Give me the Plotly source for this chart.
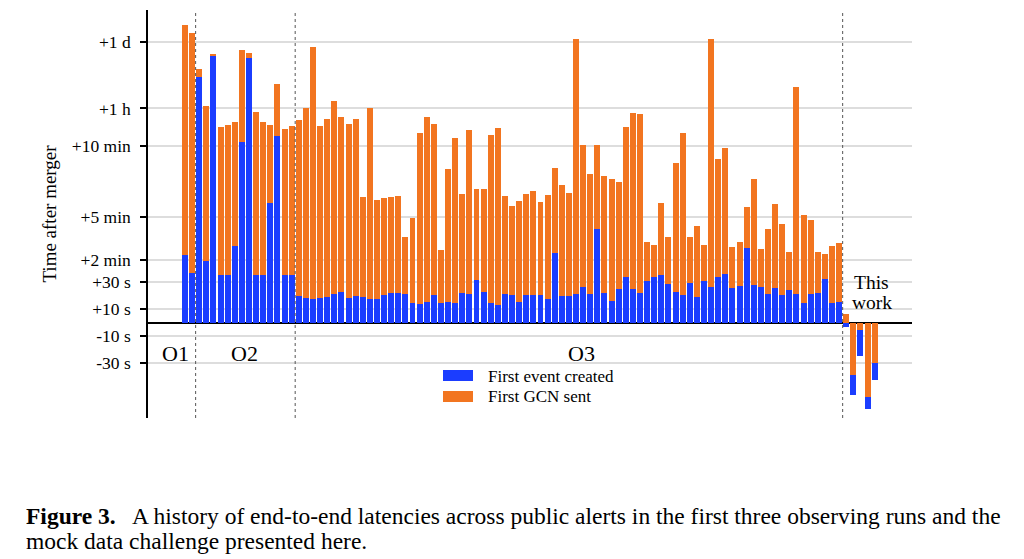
import numpy as np
import plotly.graph_objects as go

# ---------------- data (seconds after merger) ----------------
runs = ["O1", "O2", "O3", "This work"]

o1_event = [142, 66]
o1_gcn = [197000, 134000]

o2_event = [16300, 117, 44600, 58, 58, 180, 720, 40500, 58, 58, 360, 960, 58, 58]
o2_gcn = [23900, 4050, 49000, 1480, 1630, 1880, 59400, 51500, 3040, 1880, 1630, 11600, 1340, 1550]

o3_event = [19.5, 18, 17.3, 18, 18.7, 21, 22.4, 18, 19.5, 18.7,
            17.3, 17.3, 20.2, 21.7, 21.7, 21, 14.3, 13.6, 15, 20.2,
            14.3, 15, 14.3, 21.7, 21, 37, 22.4, 14.3, 12.9, 21,
            20.2, 15, 20.2, 20.2, 20.2, 17.3, 150, 19.5, 19.5, 21,
            26, 21, 251, 21.7, 15.8, 24.6, 50, 24.6, 21.7, 33,
            50, 58, 28.3, 22.4, 20.2, 29, 18.7, 33, 26, 50,
            62, 25.4, 26.8, 171, 27.6, 26, 21, 25.4, 20.2, 23.9,
            21, 14.3, 21, 21.7, 41, 14.3, 15]
o3_gcn = [2070, 3680, 68600, 1550, 2170, 5150, 2390, 1710, 2170, 385,
          3680, 373, 381, 385, 389, 217, 297, 1110, 2390, 1710,
          163, 502, 872, 398, 1280, 419, 419, 1010, 1410, 389,
          347, 368, 398, 410, 364, 394, 507, 435, 402, 100800,
          623, 482, 623, 473, 461, 448, 1480, 2890, 2760, 196,
          184, 360, 217, 528, 1110, 217, 264, 184, 100800, 544,
          590, 175, 196, 343, 461, 167, 251, 356, 272, 155,
          10070, 310, 289, 155, 146, 180, 192]

mdc_event = [-3.1, -162, -24.4, -220, -99]
mdc_gcn = [6, -79, -5.5, -171, -30]

tick_seconds = [86400, 3600, 600, 300, 120, 30, 10, -10, -30]
tick_labels = ["+1 d", "+1 h", "+10 min", "+5 min", "+2 min", "+30 s", "+10 s", "-10 s", "-30 s"]

caption_line1 = ("<b>Figure 3.</b>   A history of end-to-end latencies across public alerts "
                 "in the first three observing runs and the")
caption_line2 = "mock data challenge presented here."


# ---------------- axis transform (piecewise: linear / linear / log) ----------------
def scale(t):
    t = np.asarray(t, dtype=float)
    a = np.abs(t)
    h = np.where(a <= 30, 1.36 * a,
                 np.where(a <= 600, 40.8 + 0.2385 * (a - 30),
                          176.75 + 48.0 * np.log10(np.maximum(a, 1e-9) / 600.0)))
    return np.sign(t) * h


event = np.array(o1_event + o2_event + o3_event + mdc_event, dtype=float)
gcn = np.array(o1_gcn + o2_gcn + o3_gcn + mdc_gcn, dtype=float)
x = np.arange(len(event))
sizes = [len(o1_event), len(o2_event), len(o3_event), len(mdc_event)]
bounds = np.cumsum(sizes)[:-1] - 0.5

BLUE = "#1b3dff"
ORANGE = "#f27520"
W = 0.84
SERIF = "Liberation Serif, DejaVu Serif, serif"

fig = go.Figure()
fig.add_trace(go.Bar(x=x, y=scale(gcn), width=W, marker=dict(color=ORANGE, line=dict(width=0)),
                     name="First GCN sent", showlegend=False))
fig.add_trace(go.Bar(x=x, y=scale(event), width=W, marker=dict(color=BLUE, line=dict(width=0)),
                     name="First event created", showlegend=False))
# pre-merger alerts: the shorter GCN bar sits in front of the event bar
front = (gcn < 0) & (event < 0) & (np.abs(gcn) < np.abs(event))
fig.add_trace(go.Bar(x=x[front], y=scale(gcn[front]), width=W,
                     marker=dict(color=ORANGE, line=dict(width=0)),
                     name="First GCN sent", showlegend=False))

shapes = []
for b in bounds:
    shapes.append(dict(type="line", xref="x", yref="paper", x0=b, x1=b, y0=0, y1=1,
                       line=dict(color="#555555", width=1, dash="dot")))
# legend swatches
shapes.append(dict(type="rect", xref="paper", yref="paper", x0=0.3861, x1=0.4254, y0=0.0907, y1=0.1176,
                   fillcolor=BLUE, line=dict(width=0)))
shapes.append(dict(type="rect", xref="paper", yref="paper", x0=0.3861, x1=0.4254, y0=0.0392, y1=0.0662,
                   fillcolor=ORANGE, line=dict(width=0)))

annotations = [
    dict(text="First event created", xref="paper", yref="paper", x=0.4424, y=0.1029,
         xanchor="left", yanchor="middle", showarrow=False, font=dict(size=17, family=SERIF, color="black")),
    dict(text="First GCN sent", xref="paper", yref="paper", x=0.4424, y=0.0515,
         xanchor="left", yanchor="middle", showarrow=False, font=dict(size=17, family=SERIF, color="black")),
    dict(text="O1", xref="x", yref="paper", x=-1.27, y=0.159, showarrow=False,
         xanchor="center", yanchor="middle", font=dict(size=22, family=SERIF, color="black")),
    dict(text="O2", xref="x", yref="paper", x=8.44, y=0.159, showarrow=False,
         xanchor="center", yanchor="middle", font=dict(size=22, family=SERIF, color="black")),
    dict(text="O3", xref="x", yref="paper", x=55.7, y=0.159, showarrow=False,
         xanchor="center", yanchor="middle", font=dict(size=22, family=SERIF, color="black")),
    dict(text="This", xref="x", yref="paper", x=96.6, y=0.333, showarrow=False,
         xanchor="center", yanchor="middle", font=dict(size=19.5, family=SERIF, color="black")),
    dict(text="work", xref="x", yref="paper", x=96.6, y=0.284, showarrow=False,
         xanchor="center", yanchor="middle", font=dict(size=19.5, family=SERIF, color="black")),
    dict(text=caption_line1, xref="paper", yref="paper", x=-0.1623, y=-0.2402, showarrow=False,
         xanchor="left", yanchor="middle", align="left",
         font=dict(size=23.5, family=SERIF, color="black")),
    dict(text=caption_line2, xref="paper", yref="paper", x=-0.1623, y=-0.3015, showarrow=False,
         xanchor="left", yanchor="middle", align="left",
         font=dict(size=23.5, family=SERIF, color="black")),
]

fig.update_layout(
    width=1016, height=551, autosize=False,
    margin=dict(l=140, r=112, t=2, b=141),
    paper_bgcolor="white", plot_bgcolor="white",
    barmode="overlay", bargap=0,
    showlegend=False,
    shapes=shapes, annotations=annotations,
    font=dict(family=SERIF, color="black"),
    xaxis=dict(visible=False, range=[-5.2, 102.25]),
    yaxis=dict(
        range=[-95.5, 312.5],
        tickmode="array", tickvals=scale(tick_seconds), ticktext=tick_labels,
        ticks="outside", ticklen=6, tickwidth=1.5, tickcolor="black",
        showline=True, linecolor="black", linewidth=1.5,
        showgrid=True, gridcolor="#dddddd", gridwidth=1.5,
        zeroline=True, zerolinecolor="black", zerolinewidth=2,
        tickfont=dict(size=17.5, family=SERIF, color="black"),
        ticklabelstandoff=6,
        title=dict(text="Time after merger", font=dict(size=19, family=SERIF, color="black"), standoff=10),
    ),
)

fig.write_html("out.html")
